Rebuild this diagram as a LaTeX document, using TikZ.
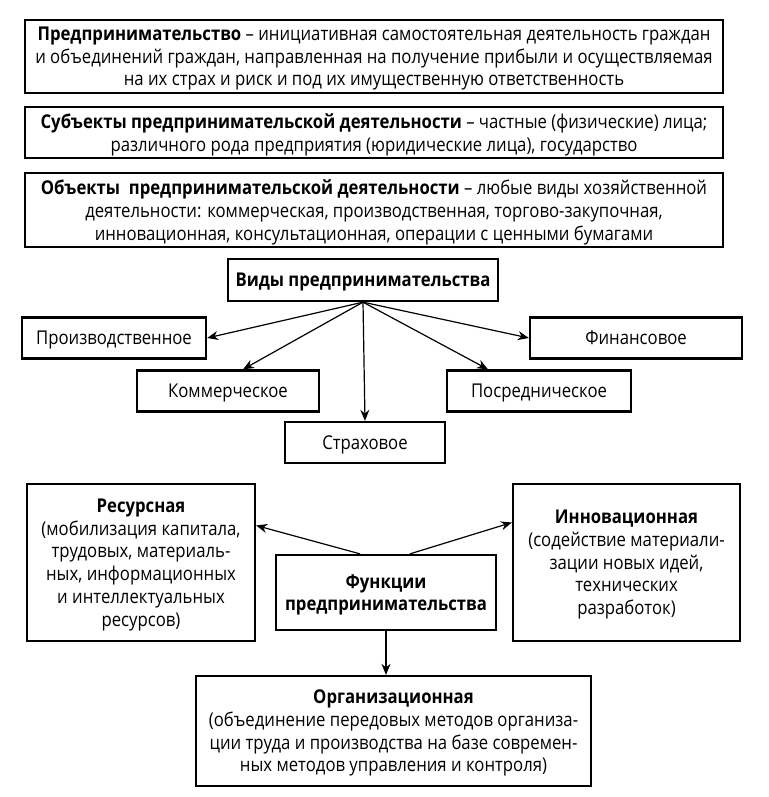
\documentclass[tikz,border=0pt]{standalone}
\usepackage{fontspec}
\setmainfont[FakeStretch=0.88]{Open Sans}
\usetikzlibrary{positioning, arrows.meta}

\begin{document}
\begin{tikzpicture}[
    x=1pt, y=-1pt,
    box/.style={draw, line width=2.3pt, align=center, inner sep=0pt, text depth=0pt, font=\fontsize{19}{22.7}\selectfont},
    wide/.style={box, minimum width=698pt},
    kind/.style={box, minimum height=41pt},
    func/.style={box, minimum height=157pt},
    link/.style={line width=1.2pt, -{Stealth[length=11pt, width=9pt]}}
]
\useasboundingbox (0,0) rectangle (768,797);

% ---------- Definitions ----------
\node[wide, minimum height=73pt] (defin) at (374,56.5) {\textbf{Предпринимательство} -- инициативная самостоятельная деятельность граждан \\ и объединений граждан, направленная на получение прибыли и осуществляемая \\ на их страх и риск и под их имущественную ответственность};
\node[wide, minimum height=51pt] (subj) at (374,132.5) {\textbf{Субъекты предпринимательской деятельности} -- частные (физические) лица; \\ различного рода предприятия (юридические лица), государство};
\node[wide, minimum height=74pt] (obj) at (374,210) {\textbf{Объекты\ \ предпринимательской деятельности} -- любые виды хозяйственной \\ деятельности: коммерческая, производственная, торгово-закупочная, \\ инновационная, консультационная, операции с ценными бумагами};

% ---------- Types ----------
\node[box, minimum width=270pt, minimum height=42pt] (vidy) at (363,280) {\textbf{Виды предпринимательства}};
\node[kind, minimum width=184pt] (proizv) at (114,338) {Производственное};
\node[kind, minimum width=212pt] (finans) at (636,338) {Финансовое};
\node[kind, minimum width=182pt] (kommer) at (228,391) {Коммерческое};
\node[kind, minimum width=184pt] (posred) at (539,391) {Посредническое};
\node[kind, minimum width=160pt] (strah) at (365,442.5) {Страховое};

\draw[link] (vidy.south) -- (proizv.east);
\draw[link] (vidy.south) -- ([xshift=15pt]kommer.north);
\draw[link] (vidy.south) -- (strah.north);
\draw[link] (vidy.south) -- ([xshift=-51pt]posred.north);
\draw[link] (vidy.south) -- (finans.west);

% ---------- Functions ----------
\node[func, minimum width=228pt] (resurs) at (141,562.5) {\textbf{Ресурсная} \\ (мобилизация капитала, \\ трудовых, материаль- \\ ных, информационных \\ и интеллектуальных \\ ресурсов)};
\node[func, minimum width=227pt] (innov) at (626.5,562.5) {\textbf{Инновационная} \\ (содействие материали- \\ зации новых идей, \\ технических \\ разработок)};
\node[box, minimum width=220pt, minimum height=75pt] (funkc) at (386,592.5) {\textbf{Функции} \\ \textbf{предпринимательства}};
\node[box, minimum width=395pt, minimum height=110pt] (organiz) at (393.5,731) {\textbf{Организационная} \\ (объединение передовых методов организа- \\ ции труда и производства на базе современ- \\ ных методов управления и контроля)};

\draw[link] ([xshift=-26pt]funkc.north) -- ([yshift=37pt]resurs.east);
\draw[link] ([xshift=24pt]funkc.north) -- ([yshift=40pt]innov.west);
\draw[link] (funkc.south) -- (funkc.south |- organiz.north);

\end{tikzpicture}
\end{document}
